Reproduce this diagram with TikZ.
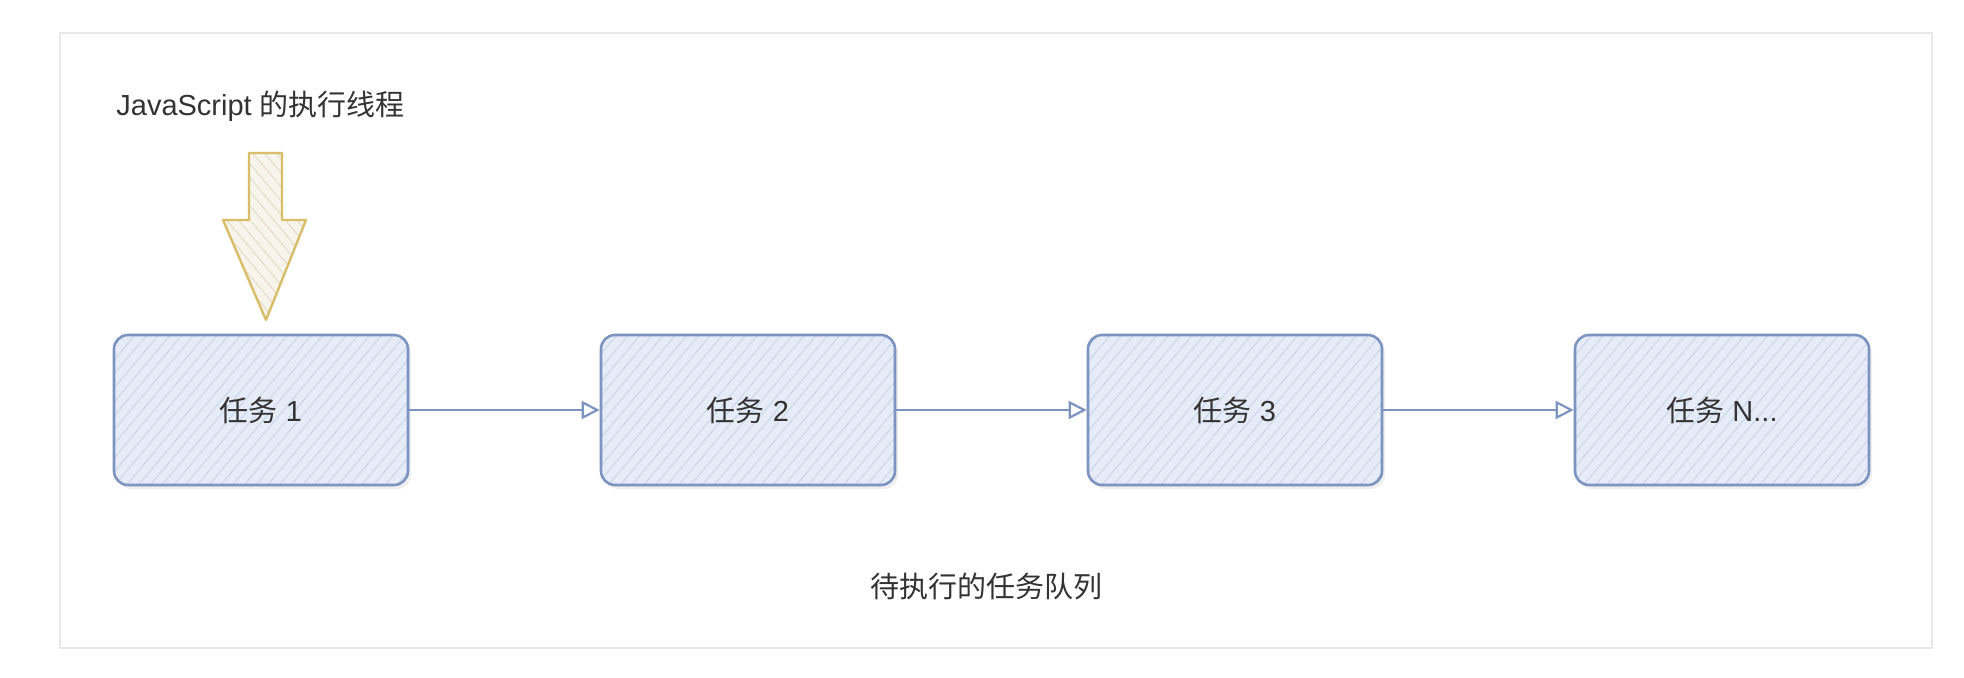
\documentclass[tikz,border=0pt]{standalone}
\usepackage{fontspec}
\setmainfont{Liberation Sans}
\newfontfamily\cjk{Noto Sans CJK SC}
\usetikzlibrary{arrows.meta,patterns.meta,shadows}
\definecolor{boxline}{HTML}{7D93C0}
\definecolor{boxfill}{HTML}{E6ECF7}
\definecolor{boxhatch}{HTML}{CBD6EA}
\definecolor{arrline}{HTML}{D9BE6A}
\definecolor{arrfill}{HTML}{F7F4EC}
\definecolor{arrhatch}{HTML}{E4DCC8}
\definecolor{txt}{HTML}{333333}
\definecolor{frameline}{HTML}{E8E8E8}
\tikzset{
  lbl/.style={text=txt, font=\fontsize{14.5}{17}\selectfont, inner sep=0pt},
  taskbox/.style={rounded corners=7pt, minimum width=147pt, minimum height=75pt,
    draw=boxline, line width=1.3pt,
    drop shadow={shadow xshift=1.5pt, shadow yshift=-2pt, opacity=0.12},
    preaction={fill=boxfill},
    pattern={Lines[angle=50, distance=4.5pt, line width=0.5pt]}, pattern color=boxhatch,
    text=txt, font=\fontsize{14.5}{17}\selectfont},
  conn/.style={draw=boxline, line width=1.1pt,
    -{Triangle[open, length=9pt, width=9pt, line width=1.1pt]}},
  blockarrow/.style={draw=arrline, line width=1.2pt, line join=round,
    preaction={fill=arrfill},
    pattern={Lines[angle=-50, distance=4.5pt, line width=0.5pt]}, pattern color=arrhatch}
}
\begin{document}
\begin{tikzpicture}[x=0.5pt, y=-0.5pt]
\useasboundingbox (0,0) rectangle (1964,678);
\fill[white] (0,0) rectangle (1964,678);
% frame
\draw[frameline, line width=1pt, fill=white] (60,33) rectangle (1932,648);
% title
\node[lbl, anchor=west] (title) at (116,106) {JavaScript {\cjk 的执行线程}};
% block arrow
\draw[blockarrow] (249,153) -- (282,153) -- (282,220) -- (306,220) -- (266,320)
  -- (223,220) -- (249,220) -- cycle;
% tasks
\node[taskbox] (t1) at (261,410) {{\cjk 任务} 1};
\node[taskbox] (t2) at (748,410) {{\cjk 任务} 2};
\node[taskbox] (t3) at (1235,410) {{\cjk 任务} 3};
\node[taskbox] (t4) at (1722,410) {{\cjk 任务} N...};
% connectors
\draw[conn] (t1.east) -- (t2.west);
\draw[conn] (t2.east) -- (t3.west);
\draw[conn] (t3.east) -- (t4.west);
% bottom label
\node[lbl] (queue) at (986,586) {\cjk 待执行的任务队列};
\end{tikzpicture}
\end{document}
